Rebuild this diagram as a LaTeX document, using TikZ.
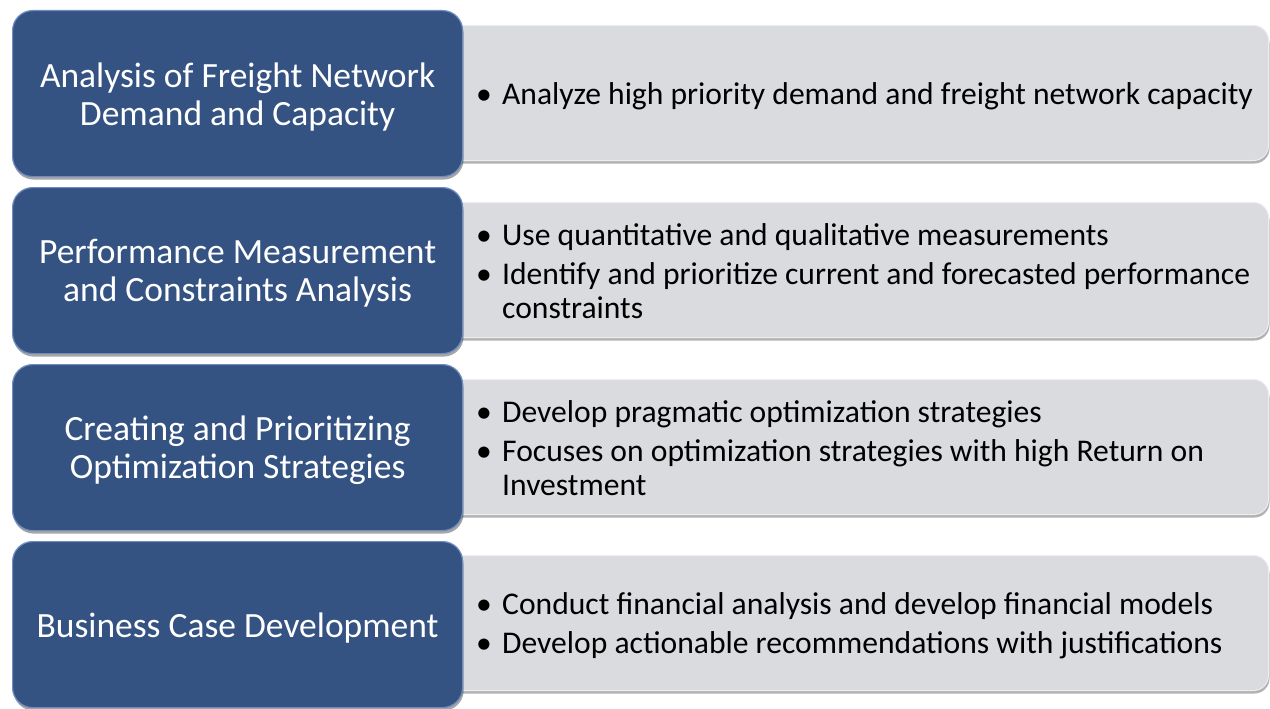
\documentclass[tikz,border=0pt]{standalone}
\usepackage{fontspec}
\setmainfont{Carlito}
\usetikzlibrary{shadows}
\definecolor{bluebox}{RGB}{52,83,131}
\definecolor{blueedge}{RGB}{110,140,190}
\definecolor{greybox}{RGB}{218,219,223}
\definecolor{greyedge}{RGB}{236,237,240}
\tikzset{
  titlebox/.style={draw=blueedge, line width=1.2pt, fill=bluebox, rounded corners=20pt,
    minimum width=450pt, minimum height=166pt, anchor=north west, inner sep=0pt,
    drop shadow={shadow xshift=1pt, shadow yshift=-3pt, opacity=0.35, fill=black}},
  titletext/.style={inner sep=0pt, text=white, align=center, yshift=-3pt,
    font=\fontsize{35.5}{38}\selectfont},
  infobox/.style={draw=greyedge, line width=1pt, fill=greybox, rounded corners=15pt,
    minimum width=828pt, minimum height=135pt, anchor=north west, inner sep=0pt,
    drop shadow={shadow xshift=1pt, shadow yshift=-3pt, opacity=0.3, fill=black}},
  infotext/.style={anchor=west, inner sep=0pt, align=left, text=black,
    font=\fontsize{31.6}{34}\selectfont}
}
\newcommand{\bul}{\makebox[26pt][l]{\textbullet}}
\newcommand{\cont}{\hspace*{26pt}}
\begin{document}
\begin{tikzpicture}[x=1pt,y=-1pt]
\useasboundingbox (0,0) rectangle (1270,709);
% grey info boxes
\node[infobox] (g1) at (440,25) {};
\node[infobox] (g2) at (440,202) {};
\node[infobox] (g3) at (440,379) {};
\node[infobox] (g4) at (440,555) {};
% blue title boxes
\node[titlebox] (b1) at (12,10) {};
\node[titlebox] (b2) at (12,187) {};
\node[titlebox] (b3) at (12,364) {};
\node[titlebox] (b4) at (12,541) {};
\node[titletext] (h1) at (b1.center) {Analysis of Freight Network\\Demand and Capacity};
\node[titletext] (h2) at (b2.center) {Performance Measurement\\and Constraints Analysis};
\node[titletext] (h3) at (b3.center) {Creating and Prioritizing\\Optimization Strategies};
\node[titletext] (h4) at (b4.center) {Business Case Development};
% texts
\node[infotext] (t1) at (476,96) {\bul Analyze high priority demand and freight network capacity};
\node[infotext] (t2) at (476,271) {\bul Use quantitative and qualitative measurements\\[5pt]
  \bul Identify and prioritize current and forecasted performance\\
  \cont constraints};
\node[infotext] (t3) at (476,448) {\bul Develop pragmatic optimization strategies\\[5pt]
  \bul Focuses on optimization strategies with high Return on\\
  \cont Investment};
\node[infotext] (t4) at (476,626) {\bul Conduct financial analysis and develop financial models\\[5pt]
  \bul Develop actionable recommendations with justifications};
\end{tikzpicture}
\end{document}
